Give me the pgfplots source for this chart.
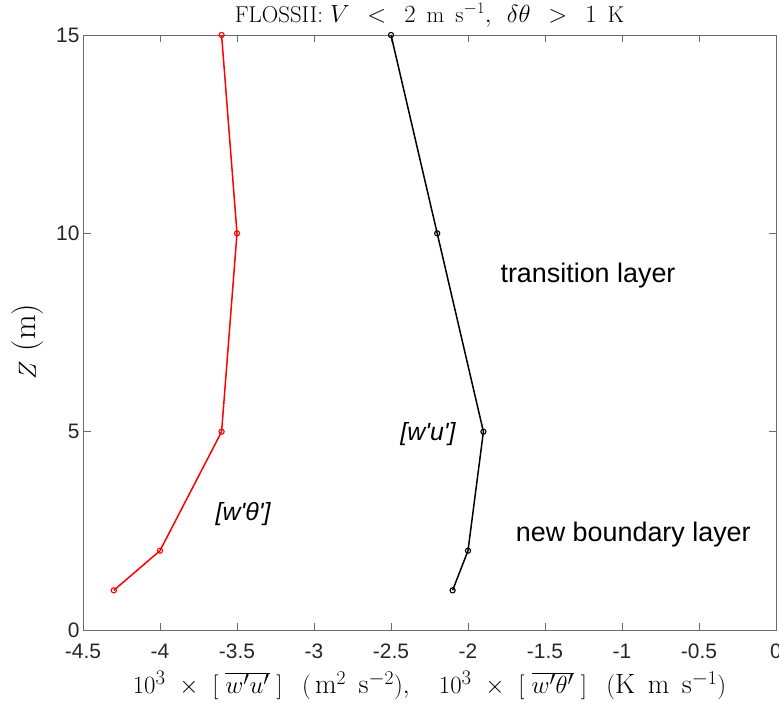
\documentclass[border=0pt]{standalone}
\usepackage{pgfplots}
\pgfplotsset{compat=1.18}
\usetikzlibrary{calc}
\usepackage{fontspec}
\newfontfamily\hv{Liberation Sans}
\definecolor{axc}{rgb}{0.15,0.15,0.15}
\definecolor{axl}{rgb}{0.42,0.42,0.42}
\begin{document}
\begin{tikzpicture}
\begin{axis}[
  scale only axis,
  width=693bp, height=595bp,
  xmin=-4.5, xmax=0, ymin=0, ymax=15,
  xtick={-4.5,-4,...,0},
  ytick={0,5,10,15},
  xticklabels={-4.5,-4,-3.5,-3,-2.5,-2,-1.5,-1,-0.5,0},
  tick align=inside,
  major tick length=7.5bp,
  tick pos=both,
  clip=false,
  axis line style={draw=axl, line width=0.8pt},
  every tick/.style={draw=axl, line width=0.8pt},
  /pgf/number format/assume math mode=true,
  ticklabel style={font=\hv\fontsize{21}{21}\selectfont, text=axc},
  xticklabel style={anchor=base, yshift=-28bp},
  yticklabel style={anchor=east},
  title={FLOSSII: $V\ \,<\ \,2\ \,\mathrm{m\ \,s^{-1}},\ \,\delta\theta\ \,>\ \,1\ \,\mathrm{K}$},
  title style={font=\fontsize{23}{23}\selectfont, at={(axis description cs:0.5,1)}, anchor=base, yshift=7bp},
  xlabel={$10^3\,\,\times\,\,[\;\overline{w'u'}\;]\ \;\,(\,\mathrm{m^2\ \,s^{-2}}),\ \ \,\,10^3\,\,\times\,\,[\;\overline{w'\theta'}\;]\ \;\,(\mathrm{K\ \,m\ \,s^{-1}})$},
  xlabel style={font=\fontsize{28}{28}\selectfont, at={(axis description cs:0.5,0)}, anchor=base, yshift=-63bp},
  ylabel={$Z$ (m)},
  ylabel style={font=\fontsize{32}{32}\selectfont, at={(axis description cs:0,0.5)}, anchor=base, yshift=47bp, xshift=-9bp},
]
\addplot[red, line width=1.5pt, mark=o, mark size=2.6pt, mark options={line width=1.1pt}] coordinates {
(-4.3,1) (-4.0,2) (-3.6,5) (-3.5,10) (-3.6,15)};
\addplot[black, line width=1.5pt, mark=o, mark size=2.6pt, mark options={line width=1.1pt}] coordinates {
(-2.1,1) (-2.0,2) (-1.9,5) (-2.2,10) (-2.5,15)};
\node[anchor=base west, font=\hv\fontsize{27}{27}\selectfont, inner sep=0pt] at (axis cs:-1.79,8.75) {transition layer};
\node[anchor=base west, font=\hv\fontsize{27}{27}\selectfont, inner sep=0pt] at (axis cs:-1.69,2.24) {new boundary layer};
\node[anchor=base west, font=\hv\itshape\fontsize{25}{25}\selectfont, inner sep=0pt] at (axis cs:-2.44,4.77) {[w'u']};
\node[anchor=base west, font=\hv\itshape\fontsize{25}{25}\selectfont, inner sep=0pt] at (axis cs:-3.64,2.77) {[w'θ']};
\end{axis}
\pgfresetboundingbox
\path[use as bounding box] ($(current axis.south west)+(-83bp,-72bp)$) rectangle ($(current axis.north east)+(3bp,35bp)$);
\end{tikzpicture}
\end{document}
